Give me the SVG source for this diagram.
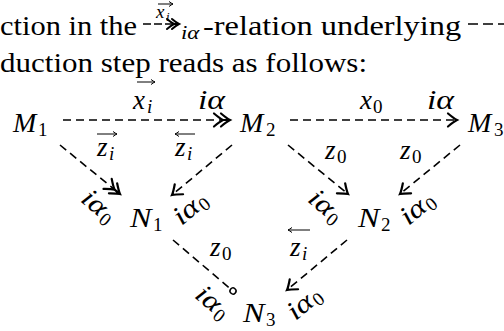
<svg xmlns="http://www.w3.org/2000/svg" width="504" height="331" viewBox="0 0 504 331" font-family="Liberation Serif">
<style>
.t{font-size:27px;fill:#000}
.m{font-size:28px;font-style:italic;fill:#000}
.l{font-size:27px;font-style:italic;fill:#000}
.s{font-size:19px;fill:#000}
.si{font-size:19px;font-style:italic;fill:#000}
.d{fill:none;stroke:#000;stroke-width:1.6;stroke-dasharray:8 5}
.v{fill:none;stroke:#000;stroke-width:1}
</style>
<defs>
<marker id="a1" markerUnits="userSpaceOnUse" viewBox="-12 -8 14 16" refX="0" refY="0" markerWidth="14" markerHeight="16" orient="auto" overflow="visible">
<path d="M-9,-6.5 Q-3,-1.5 0,0 Q-3,1.5 -9,6.5" fill="none" stroke="#000" stroke-width="2.2" stroke-dasharray="none" stroke-linecap="round"/>
</marker>
<marker id="a2" markerUnits="userSpaceOnUse" viewBox="-18 -8 20 16" refX="0" refY="0" markerWidth="20" markerHeight="16" orient="auto" overflow="visible">
<path d="M-9,-6.5 Q-3,-1.5 0,0 Q-3,1.5 -9,6.5 M-16,-6.5 Q-10,-1.5 -7,0 Q-10,1.5 -16,6.5 M-7,0 H0" fill="none" stroke="#000" stroke-width="2.2" stroke-dasharray="none" stroke-linecap="round"/>
</marker>
<marker id="a2s" markerUnits="userSpaceOnUse" viewBox="-14 -6 16 12" refX="0" refY="0" markerWidth="16" markerHeight="12" orient="auto" overflow="visible">
<path d="M-7,-5 Q-2.5,-1.2 0,0 Q-2.5,1.2 -7,5 M-12,-5 Q-7.5,-1.2 -5,0 Q-7.5,1.2 -12,5 M-5,0 H0" fill="none" stroke="#000" stroke-width="2" stroke-dasharray="none" stroke-linecap="round"/>
</marker>
<marker id="ac" markerUnits="userSpaceOnUse" viewBox="-5 -5 10 10" refX="0" refY="0" markerWidth="10" markerHeight="10" orient="auto" overflow="visible">
<circle cx="0" cy="0" r="3" fill="#fff" stroke="#000" stroke-width="1.5" stroke-dasharray="none"/>
</marker>
<marker id="av" markerUnits="userSpaceOnUse" viewBox="-6 -4 8 8" refX="0" refY="0" markerWidth="8" markerHeight="8" orient="auto" overflow="visible">
<path d="M-4,-2.5 Q-1.5,-0.6 0,0 Q-1.5,0.6 -4,2.5" fill="none" stroke="#000" stroke-width="1" stroke-dasharray="none"/>
</marker>
</defs>

<g id="prose">
<text font-family="Liberation Serif" class="t" transform="translate(0,35) scale(1.128,1)">ction in the</text>
<path class="d" d="M143,24 H179" style="stroke-dasharray:8 3" marker-end="url(#a2s)"/>
<path class="v" d="M158,4 H173" marker-end="url(#av)"/>
<text font-family="Liberation Serif" class="si" x="156" y="18">x</text>
<text font-family="Liberation Serif" class="si" x="166" y="21" style="font-size:13px">i</text>
<text font-family="Liberation Serif" class="si" transform="translate(181,39) scale(1.2,1)">iα</text>
<text font-family="Liberation Serif" class="t" transform="translate(203,35) scale(1.2,1)">-relation underlying</text>
<path class="d" d="M468,24 H504" style="stroke-dasharray:10 5"/>
<text font-family="Liberation Serif" class="t" transform="translate(0,72) scale(1.149,1)">duction step reads as follows:</text>
</g>

<g id="M1"><text font-family="Liberation Serif" class="m" x="13" y="132">M</text><text font-family="Liberation Serif" class="s" x="38" y="136">1</text></g>
<g id="M2"><text font-family="Liberation Serif" class="m" x="240" y="132">M</text><text font-family="Liberation Serif" class="s" x="266" y="136">2</text></g>
<g id="M3"><text font-family="Liberation Serif" class="m" x="468" y="132">M</text><text font-family="Liberation Serif" class="s" x="494" y="136">3</text></g>
<g id="N1"><text font-family="Liberation Serif" class="m" transform="translate(130,227) scale(1.15,1)">N</text><text font-family="Liberation Serif" class="s" x="153" y="231">1</text></g>
<g id="N2"><text font-family="Liberation Serif" class="m" transform="translate(358,227) scale(1.15,1)">N</text><text font-family="Liberation Serif" class="s" x="381" y="231">2</text></g>
<g id="N3"><text font-family="Liberation Serif" class="m" transform="translate(243,322) scale(1.15,1)">N</text><text font-family="Liberation Serif" class="s" x="266" y="326">3</text></g>

<g id="connectors">
<path class="d" d="M63,120 H230" marker-end="url(#a2)"/>
<path class="d" d="M290,120 H457" marker-end="url(#a1)"/>
<path class="d" d="M60,145 L120,194" marker-end="url(#a2)"/>
<path class="d" d="M232,145 L172,195" marker-end="url(#a1)"/>
<path class="d" d="M288,145 L348,194" marker-end="url(#a1)"/>
<path class="d" d="M460,145 L400,194" marker-end="url(#a1)"/>
<path class="d" d="M173,240 L233,291" marker-end="url(#ac)"/>
<path class="d" d="M347,240 L287,290" marker-end="url(#a1)"/>
</g>

<g id="labels">
<path class="v" d="M137,82 H155" marker-end="url(#av)"/>
<text font-family="Liberation Serif" class="l" x="133" y="109">x</text><text font-family="Liberation Serif" class="si" x="147" y="113">i</text>
<text font-family="Liberation Serif" class="l" transform="translate(198,109) scale(1.25,1)">iα</text>
<text font-family="Liberation Serif" class="l" x="360" y="109">x</text><text font-family="Liberation Serif" class="s" x="373" y="113">0</text>
<text font-family="Liberation Serif" class="l" transform="translate(427,109) scale(1.25,1)">iα</text>
<path class="v" d="M97,134 H117" marker-end="url(#av)"/>
<text font-family="Liberation Serif" class="l" x="97" y="156">z</text><text font-family="Liberation Serif" class="si" x="109" y="160">i</text>
<path class="v" d="M195,134 H175" marker-end="url(#av)"/>
<text font-family="Liberation Serif" class="l" x="175" y="156">z</text><text font-family="Liberation Serif" class="si" x="187" y="160">i</text>
<text font-family="Liberation Serif" class="l" x="325" y="159">z</text><text font-family="Liberation Serif" class="s" x="337" y="163">0</text>
<text font-family="Liberation Serif" class="l" x="400" y="159">z</text><text font-family="Liberation Serif" class="s" x="412" y="163">0</text>
<text font-family="Liberation Serif" class="l" x="210" y="256">z</text><text font-family="Liberation Serif" class="s" x="222" y="260">0</text>
<path class="v" d="M310,230 H288" marker-end="url(#av)"/>
<text font-family="Liberation Serif" class="l" x="290" y="256">z</text><text font-family="Liberation Serif" class="si" x="302" y="260">i</text>
<g transform="translate(94,213) rotate(40)"><text font-family="Liberation Serif" class="l" transform="translate(-19,0) scale(1.2,1)">iα</text><text font-family="Liberation Serif" class="s" x="8" y="4">0</text></g>
<g transform="translate(196,214) rotate(-40)"><text font-family="Liberation Serif" class="l" transform="translate(-19,0) scale(1.2,1)">iα</text><text font-family="Liberation Serif" class="s" x="8" y="4">0</text></g>
<g transform="translate(321,213) rotate(40)"><text font-family="Liberation Serif" class="l" transform="translate(-19,0) scale(1.2,1)">iα</text><text font-family="Liberation Serif" class="s" x="8" y="4">0</text></g>
<g transform="translate(423,214) rotate(-40)"><text font-family="Liberation Serif" class="l" transform="translate(-19,0) scale(1.2,1)">iα</text><text font-family="Liberation Serif" class="s" x="8" y="4">0</text></g>
<g transform="translate(208,309) rotate(40)"><text font-family="Liberation Serif" class="l" transform="translate(-19,0) scale(1.2,1)">iα</text><text font-family="Liberation Serif" class="s" x="8" y="4">0</text></g>
<g transform="translate(310,309) rotate(-40)"><text font-family="Liberation Serif" class="l" transform="translate(-19,0) scale(1.2,1)">iα</text><text font-family="Liberation Serif" class="s" x="8" y="4">0</text></g>
</g>
</svg>
